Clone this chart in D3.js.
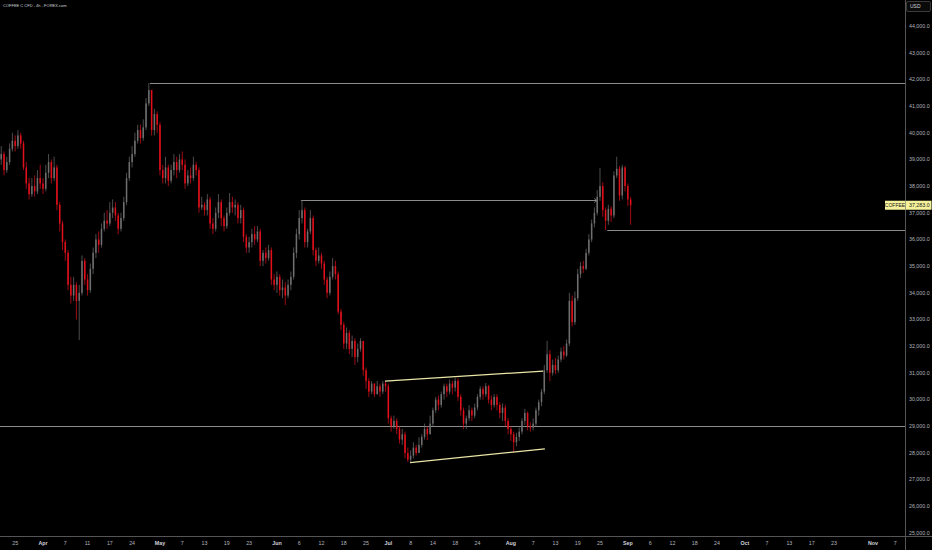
<!DOCTYPE html>
<html><head><meta charset="utf-8">
<script src="https://cdn.jsdelivr.net/npm/d3@7"></script>
<style>html,body{margin:0;padding:0;background:#000;overflow:hidden}svg{display:block}</style>
</head><body><svg id="c" width="932" height="550"></svg>
<script>
// ---- DATA ----
const title = "COFFEE C CFD - 4h - FOREX.com";
const currency = "USD";
const symbolLabel = "COFFEE";
const lastPrice = 37283;
// bars: two per trading day, trading-day index counted from Apr 1 (= 0)
const firstBarDay = -7.5, barStep = 0.5;
const firstOpen = 39000;
const closes = [39200,38600,38900,39400,39700,39500,39900,39600,38700,38100,37700,38000,37800,38300,38100,37900,38500,38900,38300,38700,
37300,36600,35900,35500,34300,33900,34300,33700,34000,35200,34500,34100,34900,35500,36000,35800,36400,36700,36600,37000,
37200,36900,36400,36800,37400,38300,38900,39200,39700,40100,39800,40200,41100,41600,40100,40700,40300,38600,38300,38700,
38200,38600,38900,38600,39000,38800,38100,38400,38300,38800,38600,37200,37300,37100,37500,36600,36400,37000,37400,36800,
36500,37000,37400,37200,37300,36800,37100,36100,35700,35900,36200,36000,36300,35200,35500,35300,35600,34500,34300,34600,
34100,34200,33900,34300,34600,35500,36200,36800,37100,35900,36300,36800,35600,35200,35400,35100,34500,34000,34600,35000,
34700,33300,32800,32100,32500,31900,32200,31600,31900,32200,31100,30700,30300,30600,30200,30500,30300,30600,30500,29300,
29000,29200,28900,28500,28700,28000,27750,27900,28200,28000,28300,28600,28900,28700,29100,29600,30000,29800,30200,30500,
30300,30600,30450,30700,30100,29600,29100,29300,29600,29400,29700,30100,30400,30200,30500,30000,29800,30100,29800,29500,
29700,29200,28900,28700,28400,28600,28800,29200,29500,29000,28950,29100,29600,29900,30300,31100,31700,31000,31300,31100,
31500,31800,31650,32100,33700,32900,33800,34700,35000,34900,35500,36000,36600,37000,37600,38000,37100,36700,37150,36900,
38400,38650,37650,38700,38000,37500,37283];
const highs = [39500,39300,39100,39600,40000,39900,40100,40000,39700,38900,38300,38300,38400,38600,38800,38300,38800,39200,39000,39100,
38800,37400,36700,36000,35600,34600,34600,34400,34300,35400,35300,34700,35100,35700,36200,36300,36600,37000,37100,37400,
37500,37400,37000,37000,37600,38500,39100,39500,40000,40300,40300,40500,41300,41860,41600,40900,40800,40400,38800,39100,
38800,38800,39200,39100,39200,39300,39000,38600,38700,39100,38900,38700,37600,37400,37700,37600,36800,37200,37700,37500,
36900,37200,37740,37600,37500,37400,37300,37200,36200,36100,36400,36500,36500,36400,35600,35700,35800,35700,34700,34800,
34700,34500,34400,34500,34800,35700,36400,37100,37480,37200,36400,37100,36900,35700,35700,35500,35200,34600,34800,35300,
35200,34800,33400,32900,32700,32600,32400,32300,32100,32300,32200,31200,30800,30700,30600,30700,30600,30700,30690,30600,
29400,29400,29300,29000,28900,28800,28200,28100,28400,28300,28590,28700,29100,29000,29400,29700,30100,30150,30300,30600,
30600,30750,30700,30810,30800,30200,29700,29400,29790,29700,29850,30200,30500,30500,30620,30550,30150,30200,30200,29900,
29850,29800,29300,29000,28800,28750,28950,29300,29650,29550,29150,29300,29700,30000,30400,31300,32200,31850,31500,31550,
31650,31950,32000,32250,34000,33900,34050,34900,35150,35200,35650,36200,36750,37200,37850,38680,38150,37200,37300,37250,
38550,39100,38750,38800,38750,38100,37600];
const lows = [38800,38400,38500,38800,39300,39300,39400,39400,38600,37900,37500,37600,37600,37700,37900,37700,37800,38300,38100,38200,
37100,36300,35600,35200,34100,33600,33700,33000,32230,33900,34300,33900,34000,34700,35300,35500,35700,36300,36400,36500,
36800,36700,36200,36300,36700,37300,38200,38700,39100,39600,39600,39700,40100,41000,39900,39900,40000,38400,38100,38100,
38000,38100,38400,38300,38500,38600,37900,38000,38100,38200,38400,37000,37100,36900,36900,36400,36200,36300,36800,36500,
36300,36400,36900,37000,36900,36600,36600,35900,35500,35500,35700,35800,35900,35000,35000,35100,35200,34300,34100,34000,
33900,33800,33540,33800,34100,34500,35300,36000,36600,35700,35700,36200,35400,35000,35100,34900,34300,33800,33900,34500,
34500,33200,32600,31900,31900,31700,31600,31300,31400,31800,30900,30400,30100,30200,30100,30200,30100,30200,30300,29100,
28800,28900,28700,28350,28300,27800,27660,27660,27800,27900,28000,28200,28500,28480,28700,29000,29500,29600,29700,30000,
30100,30200,30200,30300,29950,29400,28900,28900,29200,29200,29300,29600,30000,30000,30100,29850,29600,29700,29600,29300,
29200,29000,28700,28450,28030,28250,28450,28700,29050,28850,28800,28850,29000,29400,29750,30200,31000,30690,30900,30950,
31000,31400,31500,31600,32000,32750,32800,33700,34550,34750,34850,35400,35900,36450,36900,37450,36850,36350,36550,36650,
36800,38300,37450,37500,37800,37250,36550];
// price axis ticks
const priceTicks = [25000,26000,27000,28000,29000,30000,31000,32000,33000,34000,35000,36000,37000,38000,39000,40000,41000,42000,43000,44000];
// time axis labels and their trading-day positions
const timeLabels = ["25","Apr","7","11","17","24","May","7","13","19","23","Jun","6","12","18","25","Jul","8","14","18","24","Aug","7","13","19","25","Sep","6","12","18","24","Oct","7","13","17","23","Nov","7"];
const timeDays =   [-5,0,4,8,12,16,21,25,29,33,37,42,46,50,54,58,62,66,70,74,78,84,88,92,96,100,105,109,113,117,121,126,130,134,138,142,149,153];
const monthLabels = ["Apr","May","Jun","Jul","Aug","Sep","Oct","Nov"];
// drawn levels: [price, startDay, endDay or null = to the price axis]
const hLevels = [[29000, null, null], [41860, 19.2, null], [37480, 46.3, 99.5], [36350, 101.3, null]];
// channel trend lines: [day1, price1, day2, price2]
const channelLines = [[61.4, 30690, 89.8, 31070], [65.9, 27640, 90.1, 28150]];

// ---- LAYOUT ----
const W = 932, H = 550, plotRight = 905, plotBottom = 536;
const svg = d3.select("#c");
svg.append("rect").attr("width", W).attr("height", H).attr("fill", "#000");

const x = d3.scaleLinear().domain([0, 153]).range([43, 895.2]);
const y = d3.scaleLinear().domain([25000, 44000]).range([533, 26]);

const font = "'Liberation Sans', Arial, sans-serif";
const txt = "#b2b5be";

const plot = svg.append("g");

// horizontal levels
hLevels.forEach(([p, d0, d1]) => {
  const x0 = d0 === null ? 0 : x(d0);
  const x1 = d1 === null ? plotRight : x(d1);
  plot.append("line").attr("x1", x0).attr("x2", x1)
    .attr("y1", Math.round(y(p)) + 0.5).attr("y2", Math.round(y(p)) + 0.5)
    .attr("stroke", "#8c8c8c").attr("stroke-width", 1);
  if (d1 !== null) {
    const yy = Math.round(y(p)) + 0.5;
    plot.append("path").attr("d", `M${x1-3},${yy-2}L${x1},${yy}L${x1-3},${yy+2}`)
      .attr("fill", "none").attr("stroke", "#8c8c8c").attr("stroke-width", 0.8);
  }
});

// candles
const bars = closes.map((c, i) => {
  const o = i === 0 ? firstOpen : closes[i - 1];
  return { d: firstBarDay + i * barStep, o, c, h: highs[i], l: lows[i] };
});
const up = "#6f6f6f", down = "#e3101c";
const cg = plot.append("g");
cg.selectAll("line.w").data(bars).join("line").attr("class", "w")
  .attr("x1", b => x(b.d)).attr("x2", b => x(b.d))
  .attr("y1", b => y(Math.max(b.h, b.o, b.c))).attr("y2", b => y(Math.min(b.l, b.o, b.c)))
  .attr("stroke", b => b.c >= b.o ? up : down).attr("stroke-width", 0.7);
cg.selectAll("rect.b").data(bars).join("rect").attr("class", "b")
  .attr("x", b => x(b.d) - 0.75).attr("width", 1.5)
  .attr("y", b => y(Math.max(b.o, b.c)))
  .attr("height", b => Math.max(0.8, Math.abs(y(b.o) - y(b.c))))
  .attr("fill", b => b.c >= b.o ? up : down);

// channel lines
channelLines.forEach(([d1, p1, d2, p2]) => {
  plot.append("line").attr("x1", x(d1)).attr("y1", y(p1)).attr("x2", x(d2)).attr("y2", y(p2))
    .attr("stroke", "#e9e6a6").attr("stroke-width", 1.3);
});

// axes frame
svg.append("line").attr("x1", plotRight + 0.5).attr("x2", plotRight + 0.5).attr("y1", 0).attr("y2", H)
  .attr("stroke", "#555").attr("stroke-width", 1);
svg.append("line").attr("x1", 0).attr("x2", W).attr("y1", plotBottom + 0.5).attr("y2", plotBottom + 0.5)
  .attr("stroke", "#555").attr("stroke-width", 1);

// price axis labels
const fmt = d3.format(",.1f");
svg.append("g").selectAll("text").data(priceTicks).join("text")
  .attr("x", 909).attr("y", d => y(d)).attr("dy", "0.35em")
  .attr("font-family", font).attr("font-size", 5.3).attr("fill", txt)
  .text(d => fmt(d));

// time axis labels
svg.append("g").selectAll("text").data(timeLabels).join("text")
  .attr("x", (d, i) => x(timeDays[i])).attr("y", 543).attr("dy", "0.35em")
  .attr("text-anchor", "middle").attr("font-family", font).attr("font-size", 5.3)
  .attr("font-weight", d => monthLabels.includes(d) ? "bold" : "normal")
  .attr("fill", d => monthLabels.includes(d) ? "#d1d4dc" : txt)
  .text(d => d);

// title
svg.append("text").attr("x", 3).attr("y", 6).attr("dy", "0.35em")
  .attr("font-family", font).attr("font-size", 4.0).attr("fill", "#d1d4dc").text(title);

// currency box
svg.append("rect").attr("x", 906.5).attr("y", 1.5).attr("width", 24).attr("height", 10).attr("rx", 1.5)
  .attr("fill", "#0a0a0a").attr("stroke", "#3a3a3a");
svg.append("text").attr("x", 910).attr("y", 6.5).attr("dy", "0.35em")
  .attr("font-family", font).attr("font-size", 5).attr("fill", "#d1d4dc").text(currency);

// last price label
const ly = y(lastPrice);
svg.append("rect").attr("x", 885).attr("y", ly - 4.5).attr("width", 20).attr("height", 9).attr("fill", "#f4f19a");
svg.append("rect").attr("x", 905.5).attr("y", ly - 4.5).attr("width", 26).attr("height", 9).attr("fill", "#f4f19a");
svg.append("text").attr("x", 895).attr("y", ly).attr("dy", "0.35em").attr("text-anchor", "middle")
  .attr("font-family", font).attr("font-size", 5).attr("fill", "#1a1a1a").text(symbolLabel);
svg.append("text").attr("x", 909).attr("y", ly).attr("dy", "0.35em")
  .attr("font-family", font).attr("font-size", 5.3).attr("fill", "#1a1a1a").text(fmt(lastPrice));
</script>
</body></html>
